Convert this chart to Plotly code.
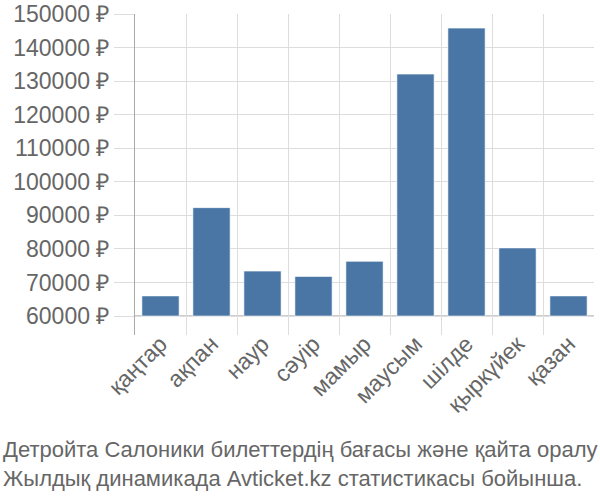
import plotly.graph_objects as go

months = ["қаңтар", "ақпан", "наур", "сәуір", "мамыр", "маусым", "шілде", "қыркүйек", "қазан"]
prices = [66000, 92300, 73400, 71800, 76300, 132100, 145800, 80300, 66000]
base_price = 60000
y_ticks = [60000, 70000, 80000, 90000, 100000, 110000, 120000, 130000, 140000, 150000]
caption = ["Детройта Салоники билеттердің бағасы және қайта оралу",
           "Жылдық динамикада Avticket.kz статистикасы бойынша."]

fig = go.Figure(go.Bar(
    x=months,
    y=[p - base_price for p in prices],
    base=base_price,
    marker=dict(color="#4a76a6", line=dict(color="rgba(255,255,255,0.6)", width=1)),
    hoverinfo="skip",
))

font = dict(family="Liberation Sans, Arial, sans-serif", size=23, color="#666666")
cap_font = dict(family="Liberation Sans, Arial, sans-serif", size=22, color="#666666")

fig.update_layout(
    width=600, height=500,
    margin=dict(l=135, r=6, t=14, b=165),
    paper_bgcolor="white", plot_bgcolor="white",
    bargap=0.27,
    showlegend=False,
    font=font,
    xaxis=dict(
        type="category",
        tickson="boundaries",
        showgrid=True, gridcolor="#dddddd", gridwidth=1,
        ticks="", tickangle=-45, tickfont=font,
        ticklabelstandoff=-10,
        showline=False, automargin=False,
    ),
    yaxis=dict(
        range=[54350, 150000],
        tickvals=y_ticks,
        ticktext=[f"{v} ₽" for v in y_ticks],
        showgrid=True, gridcolor="#dddddd", gridwidth=1,
        ticks="outside", ticklen=20, tickcolor="#dddddd",
        showline=True, linecolor="#aaaaaa", linewidth=1,
        zeroline=False, tickfont=font, automargin=False,
    ),
    shapes=[dict(type="line", xref="paper", yref="y", x0=0, x1=1,
                 y0=base_price, y1=base_price,
                 line=dict(color="#bbbbbb", width=1.5), layer="below")],
    annotations=[dict(
        xref="paper", yref="paper", x=-134 / 459, y=-(435 - 335) / 321,
        xanchor="left", yanchor="top", align="left", showarrow=False,
        text="<br>".join(caption), font=cap_font,
    )],
)

fig.write_html("out.html",
               config={"displayModeBar": False, "staticPlot": True},
               post_script="document.body.style.margin='0';document.body.style.overflow='hidden';")
